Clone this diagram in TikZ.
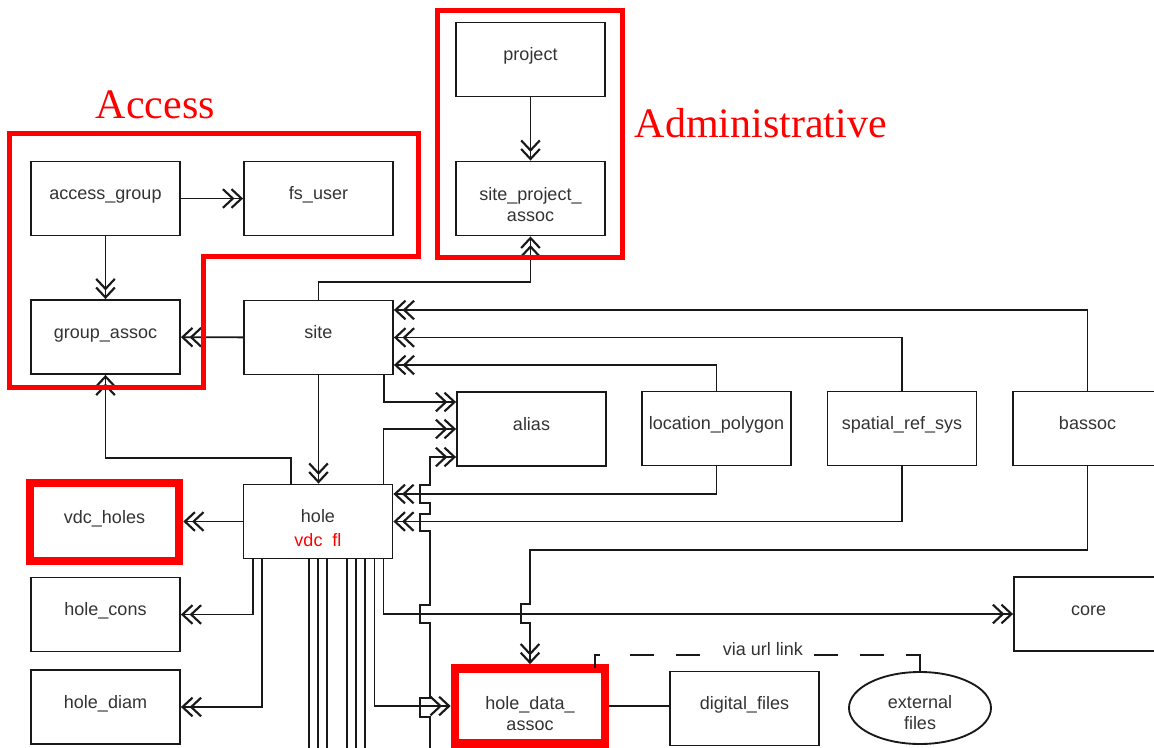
\documentclass[tikz,border=0pt]{standalone}
\usepackage{fontspec}
\newfontfamily\arialf{Liberation Sans}
\newfontfamily\timesf{Liberation Serif}
\usetikzlibrary{arrows.meta,calc,shapes.geometric}
\begin{document}
\begin{tikzpicture}[x=0.75pt,y=-0.75pt,
  line width=1.4pt,
  box/.style={draw=black!90, line width=1.4pt, minimum width=111.75pt, minimum height=55.5pt,
    inner sep=0pt, align=center, text height=9.8pt, text depth=7.7pt,
    font=\arialf\fontsize{13.5pt}{15.75pt}\selectfont, text=black!80},
  twoline/.style={text height=#1, text depth=0pt},
  hlbox/.style={box, draw=red, line width=6.5pt},
  conn/.style={draw=black!90, line width=1.4pt},
  arr/.style={conn, -{Straight Barb[length=7.5pt,width=14pt,line width=1.6pt,sep=-3pt]Straight Barb[length=7.5pt,width=14pt,line width=1.6pt]}},
  frame/.style={draw=red, line width=3.75pt, line join=miter},
  title/.style={text=red, font=\timesf\fontsize{31.5pt}{36pt}\selectfont, inner sep=0pt, anchor=base west}
]
\useasboundingbox (0,0) rectangle (1154,747);

% nodes
\node[box] (project) at (530.5,59.5) {project};
\node[box, twoline=34pt] (spa) at (530.5,198.5) {site\_project\_\\assoc};
\node[box] (ag) at (105.5,198.5) {access\_group};
\node[box] (fs) at (318.5,198.5) {fs\_user};
\node[box] (ga) at (105.5,337) {group\_assoc};
\node[box] (site) at (318.5,337.5) {site};
\node[box] (alias) at (531.5,429) {alias};
\node[box] (lp) at (716.5,428.5) {location\_polygon};
\node[box] (srs) at (902,428.5) {spatial\_ref\_sys};
\node[box] (bassoc) at (1087.5,428.5) {bassoc};
\node[box, twoline=37.5pt] (hole) at (318,521.5) {hole\\[2pt]{\color{red}vdc\ \ fl}};
\node[hlbox, minimum height=58.5pt] (vdc) at (104.5,522) {vdc\_holes};
\node[box] (hc) at (105.5,614.5) {hole\_cons};
\node[box] (hd) at (105.5,707) {hole\_diam};
\node[box] (core) at (1088.5,614) {core};
\node[hlbox, twoline=36.5pt, minimum width=112.5pt, minimum height=56.25pt] (hda) at (530,706) {hole\_data\_\\assoc};
\node[box] (df) at (744.5,708.5) {digital\_files};
\node[box, ellipse, twoline=32pt, minimum width=106.5pt, minimum height=54pt] (ext) at (920,708) {external\\files};

% connectors
\draw[arr] (project) -- (spa);
\draw[arr] (site.north) -- ++(0,-18) -| (spa.south);
\draw[arr] (ag) -- (fs);
\draw[arr] (ag) -- (ga);
\draw[arr] (site) -- (ga);
\draw[arr] (site.south) -- (site.south |- hole.north);
\draw[arr] (bassoc.north) |- ($(site.east)+(0,-27.5)$);
\draw[arr] (srs.north) |- (site.east);
\draw[arr] (lp.north) |- ($(site.east)+(0,27.5)$);
\draw[arr] ($(site.south east)+(-10,0)$) |- ($(alias.west)+(0,-27)$);
\draw[arr] ($(hole.north east)+(-10,0)$) |- (alias.west);
\coordinate (below) at (430,760);
\draw[arr] (below) -- (430,717) -- (420,717) -- (420,698) -- (430,698)
  -- (430,623) -- (420,623) -- (420,605) -- (430,605)
  -- (430,531) -- (420,531) -- (420,514) -- (430,514)
  -- (430,503) -- (420,503) -- (420,485) -- (430,485)
  -- (430,457) -- ($(alias.west)+(0,28)$);
\draw[arr] (lp.south) |- ($(hole.east)+(0,-27.5)$);
\draw[arr] (srs.south) |- (hole.east);
\draw[arr] (hole.west) -- (hole.west -| vdc.east);
\draw[arr] ($(hole.south west)+(10,0)$) |- (hc.east);
\draw[arr] ($(hole.south west)+(19,0)$) |- (hd.east);
\draw[arr] ($(hole.north)+(-27,0)$) -- ++(0,-26) -| (ga.south);
\draw[arr] ($(hole.south east)+(-10,0)$) |- (core.west);
\draw[arr] ($(hole.south east)+(-19,0)$) |- (hda.west);
\draw[arr] (bassoc.south) |- (530,550) -- (530,604) -- (521,604) -- (521,623) -- (530,623) -- (hda.north);
\foreach \dx in {-9,0,9,29,38,47}
  \draw[conn] ($(hole.south)+(\dx,0)$) -- ++(0,200);
\draw[conn] (hda.east) -- (hda.east -| df.west);

% via url link bracket
\coordinate (dL) at ($(hda.north east)+(-14,4)$);
\coordinate (dT) at ($(dL)+(0,-13)$);
\coordinate (dR) at (ext.north |- dT);
\draw[conn] (dL) -- (dT) -- ($(dT)+(5,0)$);
\draw[conn, dash pattern=on 18pt off 16.5pt, dash phase=18pt] ($(dT)+(13,0)$) -- ($(dR)+(-10,0)$);
\draw[conn] ($(dR)+(-10,0)$) -- (dR) -- (ext.north);
\node[fill=white, inner sep=2pt, font=\arialf\fontsize{13.5pt}{15.75pt}\selectfont, text=black!80] (via) at (763,649) {via url link};

% red frames and titles
\draw[frame] (9,133) -- (418,133) -- (418,256) -- (203,256) -- (203,387) -- (9,387) -- cycle;
\draw[frame] (437,10) rectangle (622,257);
\node[title] (tAccess) at (95,118) {Access};
\node[title] (tAdmin) at (634,137) {Administrative};
\end{tikzpicture}
\end{document}
